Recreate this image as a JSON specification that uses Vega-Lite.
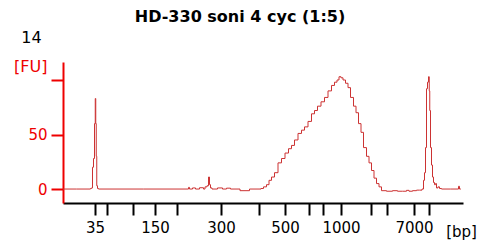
{
  "$schema": "https://vega.github.io/schema/vega-lite/v6.json",
  "width": 400,
  "height": 141,
  "autosize": {"type": "none"},
  "padding": {"left": 63, "top": 62, "right": 15, "bottom": 40},
  "background": "white",
  "config": {"view": {"stroke": null}, "font": "DejaVu Sans"},
  "title": {"text": "HD-330 soni 4 cyc (1:5)", "fontSize": 16, "fontWeight": "bold", "font": "DejaVu Sans", "color": "black", "anchor": "middle", "dx": -23},
  "data": {"values": [
    {"t":0,"v":0},{"t":27,"v":0},{"t":28,"v":0.5},{"t":29,"v":1},{"t":30,"v":20},{"t":31,"v":28},{"t":32,"v":60},{"t":32.5,"v":83},{"t":33,"v":60},{"t":33.5,"v":30},{"t":34,"v":3},{"t":35,"v":0.5},{"t":36,"v":0},
    {"t":125,"v":0},{"t":126,"v":1.5},{"t":127,"v":0},{"t":132,"v":1},{"t":133,"v":0},{"t":140,"v":1.2},{"t":141,"v":0},{"t":143,"v":2},{"t":145,"v":3},{"t":146,"v":11},{"t":147,"v":4},{"t":148,"v":1},{"t":150,"v":0},{"t":159,"v":1},{"t":160,"v":0},{"t":167,"v":0.8},{"t":168,"v":0},{"t":186,"v":-1.5},{"t":187,"v":0},
    {"t":197,"v":0},{"t":199,"v":0.5},{"t":202,"v":2},{"t":205,"v":4},{"t":207,"v":8},{"t":210,"v":11},{"t":213,"v":15},{"t":217,"v":24},{"t":220,"v":28},{"t":224,"v":33},{"t":227,"v":37},{"t":230,"v":40},{"t":233,"v":45},{"t":237,"v":51},{"t":240,"v":54},{"t":243,"v":57},{"t":247,"v":62},{"t":250,"v":69},{"t":253,"v":72},{"t":256,"v":76},{"t":260,"v":80},{"t":263,"v":84},{"t":267,"v":90},{"t":270,"v":95},{"t":273,"v":98},{"t":275,"v":100},{"t":277,"v":103},{"t":279,"v":102},{"t":281,"v":100},{"t":284,"v":97},{"t":286,"v":93},{"t":289,"v":84},{"t":292,"v":76},{"t":294,"v":70},{"t":297,"v":60},{"t":299,"v":52},{"t":302,"v":38},{"t":305,"v":30},{"t":307,"v":24},{"t":310,"v":17},{"t":312,"v":10},{"t":315,"v":5},{"t":317,"v":2},{"t":320,"v":-1.5},{"t":327,"v":-2},{"t":332,"v":-1.5},{"t":337,"v":-2},{"t":342,"v":-2},{"t":345,"v":-1.2},{"t":347,"v":-2},{"t":352,"v":-1.5},{"t":355,"v":-1},{"t":358,"v":-1},{"t":360,"v":0},
    {"t":361,"v":8},{"t":362,"v":15},{"t":363,"v":38},{"t":364,"v":92},{"t":365,"v":98},{"t":366,"v":103},{"t":366.5,"v":90},{"t":367,"v":72},{"t":368,"v":38},{"t":369,"v":22},{"t":370,"v":11},{"t":371,"v":6},{"t":372,"v":4},{"t":373,"v":5},{"t":374,"v":1},{"t":376,"v":2},{"t":377,"v":0.5},{"t":380,"v":0},{"t":395,"v":0},{"t":396,"v":2.5},{"t":397,"v":0},{"t":398,"v":0}
  ]},
  "encoding": {
    "x": {"field": "t", "type": "quantitative",
      "scale": {"domain": [0, 400], "nice": false, "zero": false},
      "axis": {"values": [32,44,70,92,114,158,196,222,246,260,278,308,324,351,366],
        "labelExpr": "datum.value==32?'35':datum.value==92?'150':datum.value==158?'300':datum.value==222?'500':datum.value==278?'1000':datum.value==351?'7000':''",
        "labelOverlap": false, "labelFlush": false, "grid": false, "domainColor": "black", "domainWidth": 2, "tickColor": "black", "tickWidth": 2, "tickSize": 12,
        "labelFontSize": 15, "labelColor": "black", "labelPadding": 5, "labelFont": "DejaVu Sans",
        "title": "[bp]", "titleFontSize": 15, "titleFontWeight": "normal", "titleColor": "black", "titleFont": "DejaVu Sans",
        "titleX": 398, "titleY": 28, "titleAlign": "center", "titleBaseline": "middle", "titleAngle": 0}}
  },
  "resolve": {"axis": {"y": "independent"}},
  "layer": [
    {
      "mark": {"type": "line", "interpolate": "step", "color": "#c33", "strokeWidth": 1},
      "encoding": {
        "y": {"field": "v", "type": "quantitative",
          "scale": {"domain": [-12.8, 116.5], "nice": false, "zero": false},
          "axis": {"values": [0, 50, 100], "labelExpr": "datum.value==100?'':datum.label",
            "grid": false, "domainColor": "#e00", "domainWidth": 2, "tickColor": "#e00", "tickWidth": 2, "tickSize": 12,
            "labelFontSize": 15, "labelColor": "#e00", "labelPadding": 4, "labelFont": "DejaVu Sans",
            "title": "[FU]", "titleColor": "#e00", "titleFontSize": 16, "titleFontWeight": "normal", "titleFont": "DejaVu Sans",
            "titleAngle": 0, "titleX": -16, "titleY": 4, "titleAlign": "right", "titleBaseline": "middle"}}
      }
    },
    {
      "mark": {"type": "line", "opacity": 0},
      "encoding": {
        "y": {"field": "v", "type": "quantitative",
          "axis": {"orient": "right", "domain": false, "ticks": false, "labels": false, "grid": false,
            "title": "14", "titleColor": "black", "titleFontSize": 16, "titleFontWeight": "normal", "titleFont": "DejaVu Sans",
            "titleAngle": 0, "titleX": -432, "titleY": -25, "titleAlign": "center", "titleBaseline": "middle"}}
      }
    }
  ]
}
